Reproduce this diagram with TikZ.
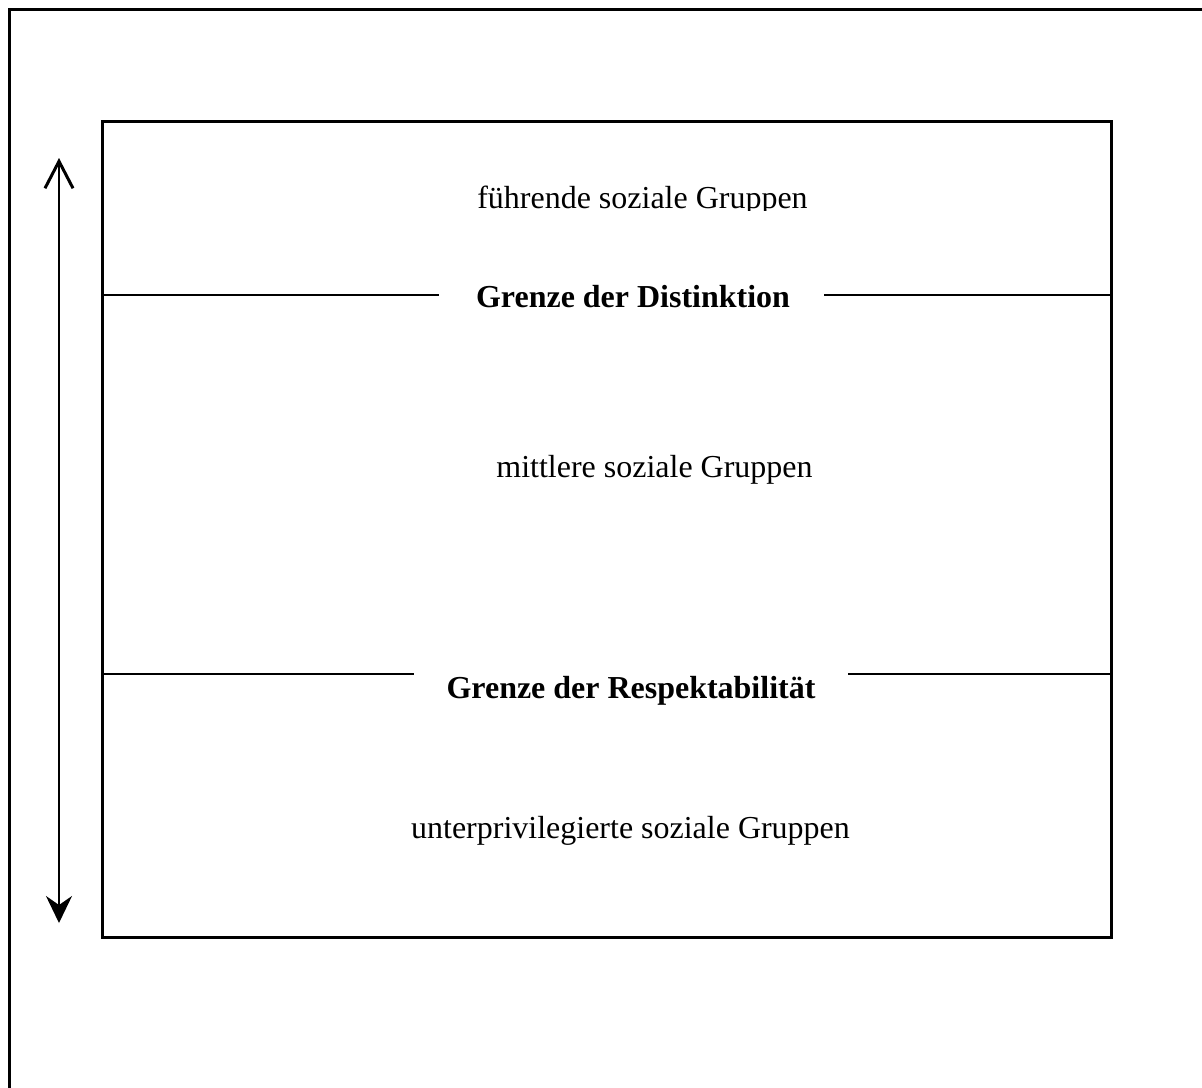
\documentclass[tikz,border=0pt]{standalone}
\usepackage{fontspec}
\setmainfont{Liberation Serif}
\usetikzlibrary{arrows.meta}
\tikzset{
  frame/.style={line width=3bp},
  boxstyle/.style={draw, line width=3bp, inner sep=0pt},
  thinline/.style={line width=2bp},
  grouplabel/.style={anchor=base, inner sep=0pt, font=\fontsize{32.1}{38}\selectfont},
  boundlabel/.style={anchor=base, inner sep=0pt, font=\fontsize{32.1}{38}\selectfont\bfseries},
}
\begin{document}
\begin{tikzpicture}[x=1bp,y=-1bp]
\useasboundingbox (0,0) rectangle (1202,1088);
\clip (0,0) rectangle (1202,1088);
\fill[white] (0,0) rectangle (1202,1088);
% outer frame (only top and left edges visible)
\draw[frame] (9,1100) -- (9,9) -- (1220,9);
% main box
\node[boxstyle, minimum width=1008bp, minimum height=815bp] (box) at (607,529.5) {};
% labels
\begin{scope}
  \clip (103,150) rectangle (1111,210.5);
  \node[grouplabel] (top) at (642.5,208) {führende soziale Gruppen};
\end{scope}
\node[boundlabel] (dist) at (633,307) {Grenze der Distinktion};
\node[grouplabel] (mid) at (654.5,477) {mittlere soziale Gruppen};
\node[boundlabel] (resp) at (631,698) {Grenze der Respektabilität};
\node[grouplabel] (low) at (630.5,838) {unterprivilegierte soziale Gruppen};
% boundary lines
\coordinate (d1) at (439,295);
\coordinate (d2) at (824,295);
\coordinate (r1) at (414,674);
\coordinate (r2) at (848,674);
\draw[thinline] (box.west |- d1) -- (d1);
\draw[thinline] (d2) -- (box.east |- d2);
\draw[thinline] (box.west |- r1) -- (r1);
\draw[thinline] (r2) -- (box.east |- r2);
% vertical arrow
\coordinate (atop) at (59,158);
\coordinate (abot) at (59,923);
\draw[thinline, {Straight Barb[length=27bp,width=28bp,line width=3bp]}-{Stealth[length=27bp,width=26bp,inset=9bp]}] (atop) -- (abot);
\end{tikzpicture}
\end{document}
